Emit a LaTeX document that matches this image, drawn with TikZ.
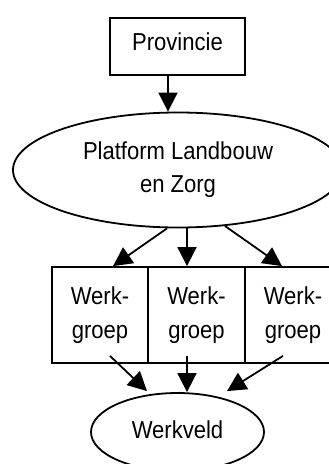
\documentclass[tikz,border=0pt]{standalone}
\usepackage{fontspec}
\setmainfont{Liberation Sans}[FakeStretch=0.9]
\usetikzlibrary{shapes.geometric,arrows.meta}

\begin{document}
\begin{tikzpicture}[x=1pt,y=1pt,line width=1.8pt,
                font=\fontsize{24.5}{34}\selectfont,
                box/.style={draw,rectangle,inner sep=0pt,align=center},
                blob/.style={draw,ellipse,inner sep=0pt,align=center},
                arr/.style={-{Triangle[length=19pt,width=19pt]}}]
                \useasboundingbox (0,0) rectangle (329,-464);
                % top
                \node[box,minimum width=135,minimum height=57,text height=17.5,text depth=10.5] (prov) at (177.5,-46.5) {Provincie};
                \node[blob,minimum width=330,minimum height=115] (plat) at (178,-170) {Platform Landbouw\\[-1pt]en Zorg};
                % werkgroepen
                \node[box,minimum width=96.5,minimum height=96] (wg1) at (100,-315) {Werk-\\groep};
                \node[box,minimum width=96.5,minimum height=96] (wg2) at (196.5,-315) {Werk-\\groep};
                \node[box,minimum width=96.5,minimum height=96] (wg3) at (293,-315) {Werk-\\groep};
                \node[blob,minimum width=173,minimum height=78,text height=17.5,text depth=5.5] (veld) at (177.5,-432) {Werkveld};
                % pijlen
                \draw[arr] ([xshift=-9.5]prov.south) -- ([xshift=-9.5]prov.south |- plat.north);
                \draw[arr] ([xshift=-11]plat.south) -- ([xshift=13]wg1.north);
                \draw[arr] ([xshift=9]plat.south) -- ([xshift=-9.5]wg2.north);
                \draw[arr] (plat.310) -- ([xshift=-11]wg3.north);
                \draw[arr] ([shift={(10,8)}]wg1.south) -- ([shift={(-30.5,1)}]veld.north);
                \draw[arr] ([shift={(-9.5,8)}]wg2.south) -- ([xshift=9.5]veld.north);
                \draw[arr] ([shift={(-10,8)}]wg3.south) -- ([shift={(49.5,1)}]veld.north);
\end{tikzpicture}
\end{document}
